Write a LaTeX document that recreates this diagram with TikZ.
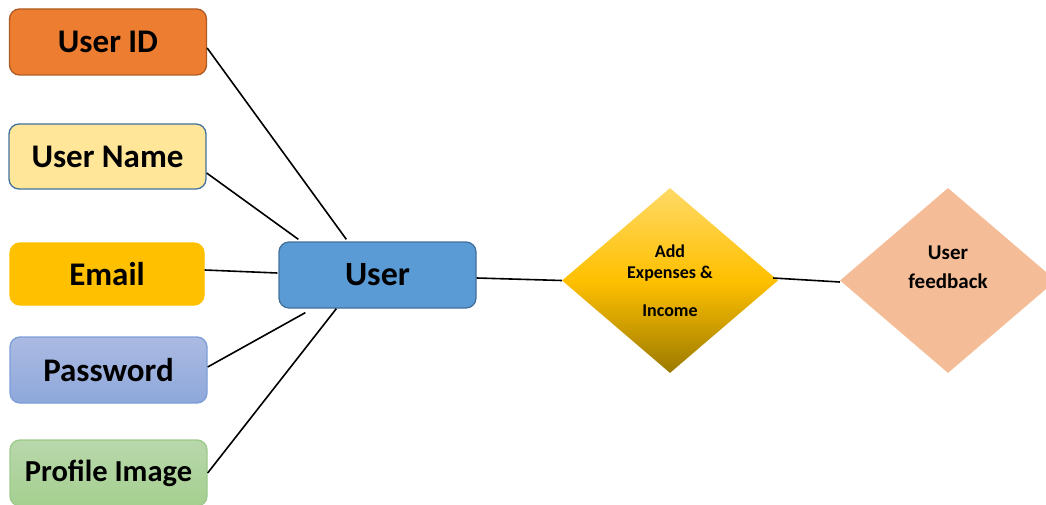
\documentclass[tikz,border=0pt]{standalone}
\usepackage{fontspec}
\setmainfont{Carlito}
\usetikzlibrary{shapes.geometric}

\definecolor{uidfill}{HTML}{ED7D31}
\definecolor{uiddraw}{HTML}{AE5A21}
\definecolor{unamefill}{HTML}{FFE699}
\definecolor{bluedraw}{HTML}{41719C}
\definecolor{emailfill}{HTML}{FFC000}
\definecolor{pwdtop}{HTML}{ABBAE2}
\definecolor{pwdbot}{HTML}{8EA8DB}
\definecolor{pwddraw}{HTML}{7C9ED8}
\definecolor{proftop}{HTML}{B8D8AB}
\definecolor{profbot}{HTML}{A5CF90}
\definecolor{profdraw}{HTML}{9CC98A}
\definecolor{userfill}{HTML}{5B9BD5}
\definecolor{goldtop}{HTML}{FFD966}
\definecolor{goldmid}{HTML}{FFC000}
\definecolor{goldbot}{HTML}{9C7A00}
\definecolor{peach}{HTML}{F5BD97}

\tikzset{
  attr/.style={rectangle, rounded corners=10pt, minimum width=197pt,
    minimum height=66pt, inner sep=0pt, line width=1.3pt,
    font=\fontsize{33}{38}\selectfont\bfseries},
  entity/.style={attr, font=\fontsize{34}{38}\selectfont\bfseries},
  relation/.style={diamond, minimum width=216pt, minimum height=185pt,
    inner sep=0pt, draw=none},
  dtext/.style={font=\fontsize{18}{21}\selectfont\bfseries, inner sep=0pt},
  ftext/.style={font=\fontsize{21}{25}\selectfont\bfseries, inner sep=0pt},
  link/.style={draw=black, line width=1.6pt}
}

\begin{document}
\begin{tikzpicture}[x=1pt, y=-1pt]
\useasboundingbox (0,0) rectangle (1046,505);
\clip (0,0) rectangle (1046,505);

% attribute boxes
\node[attr, fill=uidfill, draw=uiddraw] (uid) at (108,42) {User ID};
\node[attr, fill=unamefill, draw=bluedraw, minimum height=65pt] (uname) at (107.5,156.5) {User Name};
\node[attr, fill=emailfill, draw=emailfill, minimum width=194pt, minimum height=62pt] (email) at (107,274) {Email};
\node[attr, top color=pwdtop, bottom color=pwdbot, draw=pwddraw] (pwd) at (108.5,370) {Password};
\node[attr, top color=proftop, bottom color=profbot, draw=profdraw,
  font=\fontsize{30.5}{36}\selectfont\bfseries] (prof) at (108.5,473) {Profile Image};

% entity
\node[entity, fill=userfill, draw=bluedraw] (user) at (377.5,275) {User};

% relationships
\node[relation, top color=goldtop, bottom color=goldbot, middle color=goldmid] (d1) at (670,280.5) {};
\node[dtext] (d1a) at (670,251) {Add};
\node[dtext] (d1b) at (670,274) {Expenses \&};
\node[dtext] (d1c) at (670,311) {Income};

\node[relation, fill=peach] (d2) at (948,280.5) {};
\node[ftext] (d2a) at (948,253) {User};
\node[ftext] (d2b) at (948,281) {feedback};

% connectors
\draw[link] ([yshift=-6pt]uid.east) -- ([xshift=68pt,yshift=2pt]user.north west);
\draw[link] ([yshift=-16.5pt]uname.east) -- ([xshift=20pt,yshift=2pt]user.north west);
\draw[link] ([yshift=4pt]email.east) -- ([xshift=-1pt,yshift=2pt]user.west);
\draw[link] ([yshift=3pt]pwd.east) -- ([xshift=27pt,yshift=-4pt]user.south west);
\draw[link] (prof.east) -- ([xshift=58pt]user.south west);
\draw[link] ([yshift=-3pt]user.east) -- (d1.west);
\draw[link] ([xshift=-5pt,yshift=2.5pt]d1.east) -- ([yshift=-1.5pt]d2.west);
\end{tikzpicture}
\end{document}
